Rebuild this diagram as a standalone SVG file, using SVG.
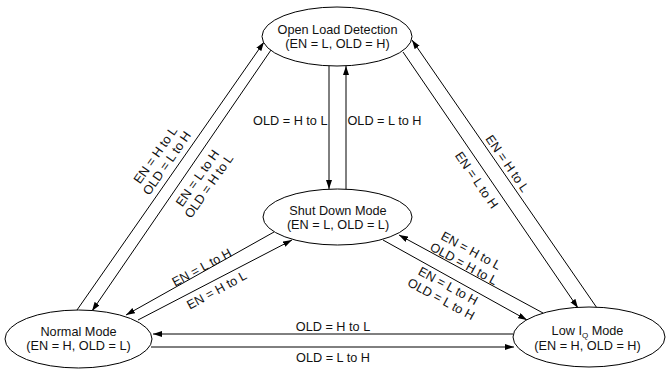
<svg xmlns="http://www.w3.org/2000/svg" width="670" height="370" viewBox="0 0 670 370">
<style>
  .node { fill: #fff; stroke: #000; stroke-width: 1; }
  .t { font-family: "Liberation Sans", Arial, sans-serif; font-size: 12.7px; fill: #111; }
  .c { text-anchor: middle; }
  .e { text-anchor: end; }
  .edge { stroke: #000; stroke-width: 1; fill: none; marker-end: url(#arr); }
</style>
<defs>
  <marker id="arr" markerUnits="userSpaceOnUse" markerWidth="10" markerHeight="7" refX="9" refY="3" orient="auto">
    <path d="M0,0 L9,3 L0,6 z" fill="#000"/>
  </marker>
</defs>
<rect width="670" height="370" fill="#fff"/>

<g id="connectors">
  <!-- Open Load <-> Shut Down -->
  <line class="edge" x1="329" y1="66" x2="329" y2="189"/>
  <line class="edge" x1="346" y1="189" x2="346" y2="66"/>
  <text class="t e" x="327.5" y="125">OLD = H to L</text>
  <text class="t" x="347.5" y="125">OLD = L to H</text>

  <!-- Normal <-> Open Load -->
  <line class="edge" x1="77" y1="310" x2="264" y2="42"/>
  <line class="edge" x1="271" y1="50" x2="92" y2="311"/>
  <text class="t c" transform="translate(161,159) rotate(-55)"><tspan x="0" y="-2.5">EN = H to L</tspan><tspan x="0" y="11.5">OLD = L to H</tspan></text>
  <text class="t c" transform="translate(203,182) rotate(-55)"><tspan x="0" y="-2.5">EN = L to H</tspan><tspan x="0" y="11.5">OLD = H to L</tspan></text>

  <!-- Low IQ <-> Open Load -->
  <line class="edge" x1="597" y1="308" x2="412" y2="40"/>
  <line class="edge" x1="403" y1="52" x2="578" y2="308"/>
  <text class="t c" transform="translate(507.5,163.3) rotate(55.4)"><tspan x="0" y="4.5">EN = H to L</tspan></text>
  <text class="t c" transform="translate(476.7,180) rotate(55.4)"><tspan x="0" y="4.5">EN = L to H</tspan></text>

  <!-- Shut Down <-> Normal -->
  <line class="edge" x1="274" y1="232" x2="126" y2="315"/>
  <line class="edge" x1="138" y1="320" x2="292" y2="240"/>
  <text class="t c" transform="translate(201.7,267.3) rotate(-28.5)"><tspan x="0" y="4.5">EN = L to H</tspan></text>
  <text class="t c" transform="translate(216.7,290) rotate(-28.5)"><tspan x="0" y="4.5">EN = H to L</tspan></text>

  <!-- Shut Down <-> Low IQ -->
  <line class="edge" x1="543" y1="313" x2="399" y2="235"/>
  <line class="edge" x1="383" y1="240" x2="527" y2="320"/>
  <text class="t c" transform="translate(467.5,257) rotate(28.5)"><tspan x="0" y="-3">EN = H to L</tspan><tspan x="0" y="12">OLD = H to L</tspan></text>
  <text class="t c" transform="translate(444.7,292.3) rotate(28.5)"><tspan x="0" y="-3">EN = L to H</tspan><tspan x="0" y="12">OLD = L to H</tspan></text>

  <!-- Normal <-> Low IQ -->
  <line class="edge" x1="513" y1="334" x2="153" y2="334"/>
  <line class="edge" x1="151" y1="347" x2="514" y2="347"/>
  <text class="t c" x="333" y="331">OLD = H to L</text>
  <text class="t c" x="333" y="362">OLD = L to H</text>
</g>

<g id="open-load">
  <ellipse class="node" cx="337" cy="36.5" rx="75" ry="29.5"/>
  <text class="t c" x="337.5" y="33.5">Open Load Detection</text>
  <text class="t c" x="337.5" y="47.5">(EN = L, OLD = H)</text>
</g>

<g id="shut-down">
  <ellipse class="node" cx="337.5" cy="217" rx="74.5" ry="28"/>
  <text class="t c" x="338" y="215">Shut Down Mode</text>
  <text class="t c" x="338" y="229">(EN = L, OLD = L)</text>
</g>

<g id="normal">
  <ellipse class="node" cx="78.5" cy="339" rx="73.5" ry="29"/>
  <text class="t c" x="78.5" y="336">Normal Mode</text>
  <text class="t c" x="78.5" y="350">(EN = H, OLD = L)</text>
</g>

<g id="low-iq">
  <ellipse class="node" cx="589" cy="337" rx="76" ry="30"/>
  <text class="t c" x="587.5" y="335">Low I<tspan font-size="8" dy="2.5">Q</tspan><tspan dy="-2.5"> Mode</tspan></text>
  <text class="t c" x="587.5" y="350">(EN = H, OLD = H)</text>
</g>
</svg>
